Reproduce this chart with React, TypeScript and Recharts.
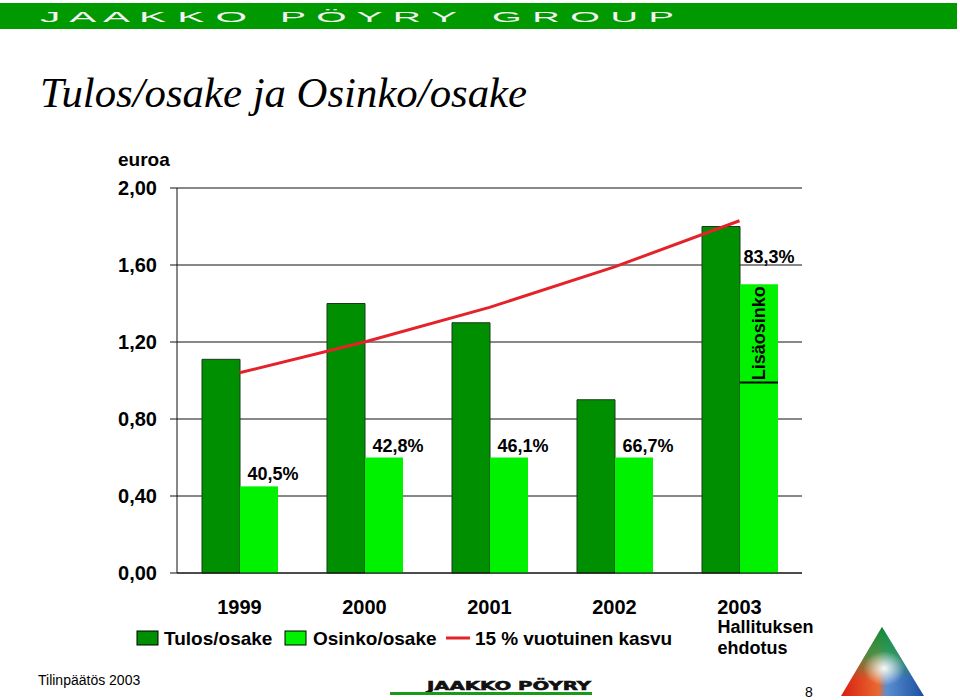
import React from 'react';
import { ComposedChart, Bar, Line, XAxis, YAxis, CartesianGrid, LabelList } from 'recharts';

const years = ['1999', '2000', '2001', '2002', '2003'];
const earningsPerShare = [1.11, 1.40, 1.30, 0.90, 1.80];
const dividendPerShare = [0.45, 0.60, 0.60, 0.60, 1.50];
const payoutRatioLabels = ['40,5%', '42,8%', '46,1%', '66,7%', '83,3%'];
const growthLine = [1.04, 1.20, 1.38, 1.59, 1.83];
const extraDividendFrom: (number | null)[] = [null, null, null, null, 0.99];
const yTicks = [0, 0.4, 0.8, 1.2, 1.6, 2.0];

const DARK = '#008F00';
const LIGHT = '#00F200';
const RED = '#E4222A';
const FONT = "'Liberation Sans', Arial, sans-serif";

const data = years.map((y, i) => ({
  year: y,
  eps: earningsPerShare[i],
  dps: dividendPerShare[i],
  payout: payoutRatioLabels[i],
  growth: growthLine[i],
  extraFrom: extraDividendFrom[i],
}));

const YearTick = (props: any) => {
  const { x, y, payload, index } = props;
  return (
    <g>
      <text x={x} y={y + 41} textAnchor="middle" fontFamily={FONT} fontWeight="bold" fontSize={20} fill="#000">
        {payload.value}
      </text>
      {index === 4 && (
        <>
          <text x={x - 22} y={y + 60} textAnchor="start" fontFamily={FONT} fontWeight="bold" fontSize={18} fill="#000">
            Hallituksen
          </text>
          <text x={x - 22} y={y + 81} textAnchor="start" fontFamily={FONT} fontWeight="bold" fontSize={18} fill="#000">
            ehdotus
          </text>
        </>
      )}
    </g>
  );
};

const DividendShape = (props: any) => {
  const { x, y, width, height, payload } = props;
  const extra = payload && payload.extraFrom;
  let lineY: number | null = null;
  if (extra != null && payload.dps > 0) {
    lineY = y + height - height * (extra / payload.dps);
  }
  return (
    <g>
      <rect x={x} y={y} width={width} height={height} fill={LIGHT} />
      {lineY != null && (
        <>
          <line x1={x} x2={x + width} y1={lineY} y2={lineY} stroke="#000" strokeWidth={2} />
          <text
            transform={`translate(${x + width / 2}, ${(y + lineY) / 2}) rotate(-90)`}
            textAnchor="middle"
            dominantBaseline="central"
            fontFamily={FONT}
            fontWeight="bold"
            fontSize={18}
            fill="#000"
          >
            Lisäosinko
          </text>
        </>
      )}
    </g>
  );
};

const PayoutLabel = (props: any) => {
  const { x, y, width, value, index } = props;
  const last = index === 4;
  return (
    <text
      x={x + width / 2 + (last ? 10 : 14)}
      y={y - (last ? 21 : 6)}
      textAnchor="middle"
      fontFamily={FONT}
      fontWeight="bold"
      fontSize={18}
      fill="#000"
    >
      {value}
    </text>
  );
};

const headerWords = [
  { text: 'J A A K K O', x: 40, len: 207 },
  { text: 'P Ö Y R Y', x: 280, len: 177 },
  { text: 'G R O U P', x: 492, len: 182 },
];

export default function App() {
  return (
    <div style={{ position: 'absolute', left: 0, top: 0, width: 960, height: 700, background: '#fff' }}>
      <ComposedChart
        width={960}
        height={700}
        data={data}
        margin={{ top: 188, right: 158, bottom: 97, left: 117 }}
        barGap={0}
        barSize={38}
      >
        <CartesianGrid vertical={false} stroke="#111" strokeWidth={1} />
        <XAxis
          dataKey="year"
          axisLine={{ stroke: '#111' }}
          tickLine={false}
          tickSize={0}
          tickMargin={0}
          height={30}
          interval={0}
          tick={<YearTick />}
        />
        <YAxis
          domain={[0, 2]}
          ticks={yTicks}
          width={60}
          tickSize={7}
          tickMargin={13}
          axisLine={{ stroke: '#111' }}
          tickLine={{ stroke: '#111' }}
          tickFormatter={(v: number) => v.toFixed(2).replace('.', ',')}
          tick={{ fill: '#000', fontSize: 20, fontWeight: 'bold', fontFamily: FONT }}
        />
        <Bar dataKey="eps" fill={DARK} stroke="#1a3a1a" strokeWidth={1} isAnimationActive={false} />
        <Bar dataKey="dps" fill={LIGHT} shape={<DividendShape />} isAnimationActive={false}>
          <LabelList dataKey="payout" content={<PayoutLabel />} />
        </Bar>
        <Line dataKey="growth" stroke={RED} strokeWidth={3} dot={false} isAnimationActive={false} />
      </ComposedChart>

      <svg width={960} height={700} style={{ position: 'absolute', left: 0, top: 0, pointerEvents: 'none' }}>
        <defs>
          <linearGradient id="triH" x1="0" y1="0" x2="1" y2="0">
            <stop offset="0" stopColor="#d81e10" />
            <stop offset="0.45" stopColor="#e86a30" />
            <stop offset="0.55" stopColor="#5a8fd0" />
            <stop offset="1" stopColor="#1a4fa0" />
          </linearGradient>
          <linearGradient id="triV" x1="0" y1="0" x2="0" y2="1">
            <stop offset="0" stopColor="#0a8a3a" stopOpacity="1" />
            <stop offset="0.4" stopColor="#2a9a4a" stopOpacity="0.8" />
            <stop offset="0.75" stopColor="#2a9a4a" stopOpacity="0" />
          </linearGradient>
          <radialGradient id="triW" cx="0.52" cy="0.6" r="0.25">
            <stop offset="0" stopColor="#ffffff" stopOpacity="0.95" />
            <stop offset="1" stopColor="#ffffff" stopOpacity="0" />
          </radialGradient>
        </defs>
        {/* header band */}
        <rect x={0} y={3} width={957} height={26} fill="#009A00" />
        {headerWords.map((w) => (
          <text key={w.text} x={w.x} y={22} fontFamily={FONT} fontSize={15} fill="#f4f4f4" textLength={w.len} lengthAdjust="spacingAndGlyphs">
            {w.text}
          </text>
        ))}
        {/* title */}
        <text x={40} y={107} fontFamily="'Liberation Serif', 'Times New Roman', serif" fontStyle="italic" fontSize={42} fill="#000" textLength={487} lengthAdjust="spacingAndGlyphs">
          Tulos/osake ja Osinko/osake
        </text>
        {/* unit */}
        <text x={118} y={166} fontFamily={FONT} fontWeight="bold" fontSize={19} fill="#000">euroa</text>
        {/* legend */}
        <rect x={137} y={631} width={21} height={14} fill={DARK} stroke="#000" strokeWidth={1} />
        <text x={164} y={645} fontFamily={FONT} fontWeight="bold" fontSize={19} fill="#000">Tulos/osake</text>
        <rect x={285} y={631} width={21} height={14} fill={LIGHT} stroke="#000" strokeWidth={1} />
        <text x={313} y={645} fontFamily={FONT} fontWeight="bold" fontSize={19} fill="#000">Osinko/osake</text>
        <line x1={446} x2={470} y1={638} y2={638} stroke={RED} strokeWidth={3} />
        <text x={475} y={645} fontFamily={FONT} fontWeight="bold" fontSize={19} fill="#000" textLength={197} lengthAdjust="spacing">15 % vuotuinen kasvu</text>
        {/* footer */}
        <text x={38} y={685} fontFamily={FONT} fontSize={14} fill="#000">Tilinpäätös 2003</text>
        <text x={427} y={690} fontFamily="'DejaVu Sans', sans-serif" fontWeight="bold" fontSize={13} fill="#111" textLength={164} lengthAdjust="spacingAndGlyphs" stroke="#111" strokeWidth={0.6}>JAAKKO PÖYRY</text>
        <rect x={390} y={692} width={202} height={3} fill="#1a9a1a" />
        <text x={805} y={697} fontFamily={FONT} fontSize={14} fill="#000">8</text>
        <polygon points="882,627 841,696 924,696" fill="url(#triH)" />
        <polygon points="882,627 841,696 924,696" fill="url(#triV)" />
        <polygon points="882,627 841,696 924,696" fill="url(#triW)" />
      </svg>
    </div>
  );
}
